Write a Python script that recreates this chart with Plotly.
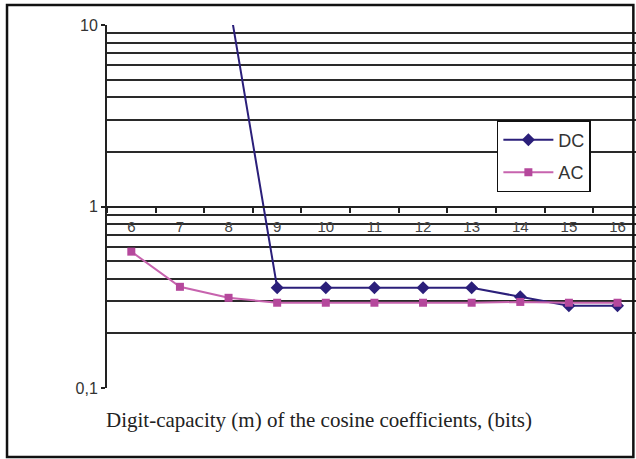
import plotly.graph_objects as go

categories = ["6", "7", "8", "9", "10", "11", "12", "13", "14", "15", "16"]
dc_values = [None, None, 14.0, 0.357, 0.357, 0.357, 0.357, 0.357, 0.318, 0.284, 0.284]
ac_values = [0.564, 0.361, 0.314, 0.295, 0.295, 0.295, 0.295, 0.295, 0.298, 0.295, 0.295]
y_major = [0.1, 1, 10]
y_major_text = ["0,1", "1", "10"]
y_minor = [0.2, 0.3, 0.4, 0.5, 0.6, 0.7, 0.8, 0.9, 2, 3, 4, 5, 6, 7, 8, 9]

DC_COLOR = "#2B1F7A"
AC_COLOR = "#B5489C"

fig = go.Figure()
fig.add_trace(go.Scatter(
    x=categories, y=dc_values, name="DC", mode="lines+markers",
    line=dict(color=DC_COLOR, width=2), connectgaps=False,
    marker=dict(symbol="diamond", size=10, color=DC_COLOR),
    legendgroup="dc",
))
fig.add_trace(go.Scatter(
    x=categories, y=ac_values, name="AC", mode="lines+markers",
    line=dict(color="#C763AE", width=2),
    marker=dict(symbol="square", size=8, color=AC_COLOR),
    legendgroup="ac",
))
# invisible trace to carry the overlay grid axis
fig.add_trace(go.Scatter(x=categories, y=[None] * len(categories), yaxis="y2",
                         showlegend=False, hoverinfo="skip", mode="lines"))

fig.update_layout(
    width=636, height=459,
    margin=dict(l=107, r=0, t=25, b=71),
    paper_bgcolor="white", plot_bgcolor="white",
    font=dict(family="Arial, Liberation Sans, sans-serif", size=14, color="#333"),
    xaxis=dict(
        type="category", categoryorder="array", categoryarray=categories,
        range=[-0.5, 10.38], anchor="free", position=0.5,
        showline=True, linecolor="#222", linewidth=2,
        tickson="boundaries", ticks="outside", ticklen=5, tickcolor="#222", tickwidth=2,
        showgrid=False, tickfont=dict(size=15, color="#444"),
        ticklabelstandoff=6,
        zeroline=False,
    ),
    yaxis=dict(
        type="log", range=[-1, 1], tickvals=y_major, ticktext=y_major_text,
        showline=True, linecolor="#222", linewidth=2,
        ticks="outside", ticklen=4, tickcolor="#222", tickwidth=2,
        showgrid=True, gridcolor="#9a9a9a", gridwidth=1.5,
        tickfont=dict(size=16, color="#333"), zeroline=False,
    ),
    yaxis2=dict(
        type="log", range=[-1, 1], overlaying="y", side="left",
        tickvals=y_minor, showticklabels=False, ticks="",
        showgrid=True, gridcolor="#2a2a2a", gridwidth=2, showline=False,
        zeroline=False,
    ),
    legend=dict(
        x=0.737, y=0.738, xanchor="left", yanchor="top",
        bgcolor="white", bordercolor="#111", borderwidth=1.5,
        font=dict(size=18, color="#333"), tracegroupgap=6,
        traceorder="grouped", itemwidth=50,
    ),
    showlegend=True,
)

fig.add_annotation(
    text="Digit-capacity (m) of the cosine coefficients, (bits)",
    xref="paper", yref="paper", x=0.40, y=-0.088, showarrow=False,
    xanchor="center", yanchor="middle",
    font=dict(family="Liberation Serif, Times New Roman, serif", size=21, color="#222"),
)

fig.add_shape(type="rect", xref="paper", yref="paper",
              x0=-0.189, x1=0.995, y0=-0.19, y1=1.055,
              line=dict(color="#111", width=2.5), layer="above")

fig.write_html("out.html", config={"displayModeBar": False},
               post_script="document.body.style.margin='0';document.body.style.overflow='hidden';")
